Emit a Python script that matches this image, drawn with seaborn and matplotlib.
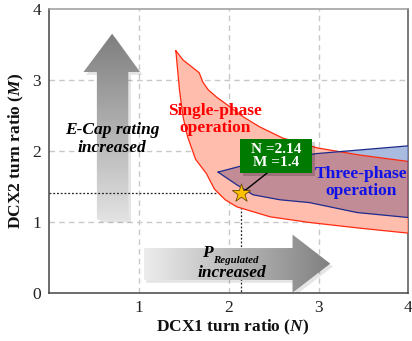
import numpy as np
import pandas as pd
import matplotlib
matplotlib.use("Agg")
import matplotlib.pyplot as plt
from matplotlib.patches import Polygon, Rectangle
import seaborn as sns

# Single-phase operating region: upper and lower boundaries (N, M)
single_upper_n = [1.41, 1.49, 1.60, 1.67, 1.71, 1.77, 1.87, 1.98, 2.16, 2.34, 2.60, 2.99, 3.46, 4.00]
single_upper_m = [3.41, 3.28, 3.17, 3.10, 2.97, 2.86, 2.75, 2.65, 2.48, 2.34, 2.18, 2.04, 1.94, 1.85]
single_lower_n = [1.41, 1.45, 1.49, 1.54, 1.63, 1.75, 1.84, 1.96, 2.09, 2.46, 2.90, 3.46, 4.00]
single_lower_m = [3.41, 2.86, 2.48, 2.20, 1.88, 1.68, 1.46, 1.31, 1.21, 1.07, 0.99, 0.91, 0.84]

# Three-phase operating region: upper and lower boundaries (N, M)
three_upper_n = [1.88, 2.12, 2.97, 4.00]
three_upper_m = [1.70, 1.78, 1.96, 2.07]
three_lower_n = [1.88, 2.09, 2.27, 2.57, 2.90, 3.43, 4.00]
three_lower_m = [1.70, 1.52, 1.38, 1.31, 1.27, 1.13, 1.06]

# Selected design point
design_n = 2.14
design_m = 1.4

x_ticks = [1, 2, 3, 4]
y_ticks = [0, 1, 2, 3, 4]

# Trend arrows (data coordinates)
vert_arrow = [(0.53, 1.03), (0.88, 1.03), (0.88, 3.11), (1.01, 3.11),
              (0.70, 3.65), (0.38, 3.11), (0.53, 3.11)]
horz_arrow = [(1.05, 0.18), (2.71, 0.18), (2.71, 0.00), (3.13, 0.41),
              (2.71, 0.82), (2.71, 0.63), (1.05, 0.63)]

# Callout box extent (data coordinates)
box_n = (2.13, 2.93)
box_m = (1.69, 2.17)

SALMON = "#FFBDAD"
RED_EDGE = "#FF2A10"
LIGHT_BLUE = "#A9BCE0"
MAUVE = "#C18C96"
NAVY = "#1F2A8C"

sns.set_theme(style="white")
plt.rcParams["font.family"] = ["Liberation Serif", "DejaVu Serif"]
plt.rcParams["mathtext.fontset"] = "custom"
plt.rcParams["mathtext.it"] = "Liberation Serif:bold:italic"
plt.rcParams["mathtext.rm"] = "Liberation Serif:bold"

fig = plt.figure(figsize=(4.12, 3.41), dpi=100)
ax = fig.add_axes([0.1197, 0.1415, 0.8713, 0.8325])


def region(n_up, m_up, n_lo, m_lo):
    up = list(zip(n_up, m_up))
    lo = list(zip(n_lo, m_lo))[::-1]
    return np.array(up + lo)


def gradient_arrow(verts, axis, c_start, c_end, zorder):
    verts = np.array(verts)
    clip = Polygon(verts, closed=True, transform=ax.transData,
                   facecolor="none", edgecolor="none")
    ax.add_patch(clip)
    # soft shadow
    shadow = Polygon(verts + np.array([0.03, -0.04]), closed=True,
                     facecolor="#000000", alpha=0.10, edgecolor="none",
                     zorder=zorder - 0.1)
    ax.add_patch(shadow)
    t = np.linspace(0, 1, 256)
    c0 = np.array(matplotlib.colors.to_rgb(c_start))
    c1 = np.array(matplotlib.colors.to_rgb(c_end))
    cols = c0[None, :] + (c1 - c0)[None, :] * t[:, None]
    if axis == "y":
        img = cols[:, None, :].repeat(4, axis=1)
    else:
        img = cols[None, :, :].repeat(4, axis=0)
    im = ax.imshow(img, extent=[verts[:, 0].min(), verts[:, 0].max(),
                                verts[:, 1].min(), verts[:, 1].max()],
                   origin="lower", aspect="auto", interpolation="bilinear",
                   zorder=zorder)
    im.set_clip_path(clip)


# grid
for v in [1, 2, 3]:
    ax.axvline(v, color="#C8C8C8", lw=1.0, ls=(0, (4, 3)), zorder=0.5)
    ax.axhline(v, color="#C8C8C8", lw=1.0, ls=(0, (4, 3)), zorder=0.5)

gradient_arrow(vert_arrow, "y", "#E2E2E2", "#7E7E7E", zorder=1.0)

# dotted guides to the design point
guides = pd.DataFrame({"n": [0, design_n, design_n], "m": [design_m, design_m, 0]})
sns.lineplot(data=guides, x="n", y="m", sort=False, estimator=None, ax=ax,
             color="#222222", lw=0.9, ls=(0, (1.5, 1.5)), zorder=1.5)

gradient_arrow(horz_arrow, "x", "#EDEDED", "#808080", zorder=2.0)

# operating regions
single_poly = region(single_upper_n, single_upper_m, single_lower_n, single_lower_m)
three_poly = region(three_upper_n, three_upper_m, three_lower_n, three_lower_m)

single_patch = Polygon(single_poly, closed=True, facecolor=SALMON,
                       edgecolor="none", zorder=3)
ax.add_patch(single_patch)
ax.add_patch(Polygon(three_poly, closed=True, facecolor=LIGHT_BLUE,
                     edgecolor="none", zorder=3.1))
overlap = Polygon(three_poly, closed=True, facecolor=MAUVE,
                  edgecolor="none", zorder=3.2)
ax.add_patch(overlap)
overlap.set_clip_path(single_patch)

closed_single = np.vstack([single_poly, single_poly[:1]])
closed_three = np.vstack([three_poly, three_poly[:1]])
ax.plot(closed_single[:, 0], closed_single[:, 1], color=RED_EDGE, lw=0.9, zorder=4)
ax.plot(closed_three[:, 0], closed_three[:, 1], color=NAVY, lw=0.9, zorder=4)

# callout for the design point
ax.plot([2.43, design_n], [1.69, design_m], color="black", lw=1.0, zorder=4.5)
sns.scatterplot(x=[design_n], y=[design_m], marker="*", s=190, color="#FFC000",
                edgecolor="#6B4A00", linewidth=0.6, ax=ax, zorder=6)
bw, bh = box_n[1] - box_n[0], box_m[1] - box_m[0]
ax.add_patch(Rectangle((box_n[0] + 0.03, box_m[0] - 0.04), bw, bh,
                       facecolor="black", alpha=0.18, edgecolor="none", zorder=6.5))
ax.add_patch(Rectangle((box_n[0], box_m[0]), bw, bh, facecolor="#007A00",
                       edgecolor="none", zorder=6.8))
ax.text(sum(box_n) / 2, sum(box_m) / 2, f"N ={design_n:g}\nM ={design_m:g}",
        color="white", fontsize=11, fontweight="bold", ha="center",
        va="center", linespacing=1.05, zorder=7)

# annotations
ax.text(0.70, 2.17, "E-Cap rating\nincreased", fontsize=12.5, fontweight="bold",
        fontstyle="italic", ha="center", va="center", linespacing=1.15,
        color="black", zorder=5)
ax.text(1.85, 2.44, "Single-phase\noperation", fontsize=12.5, fontweight="bold",
        ha="center", va="center", linespacing=1.05, color="#FF0000", zorder=5)
ax.text(3.47, 1.55, "Three-phase\noperation", fontsize=12.5, fontweight="bold",
        ha="center", va="center", linespacing=1.05, color="#1010E8", zorder=5)
p_txt = ax.text(1.70, 0.50, "P", fontsize=12.5, fontweight="bold",
                fontstyle="italic", ha="left", va="baseline", color="black",
                zorder=5)
ax.annotate("Regulated", xy=(1.0, 0.0), xycoords=p_txt, xytext=(0.5, -1.5),
            textcoords="offset points", fontsize=7.8, fontweight="bold",
            fontstyle="italic", ha="left", va="baseline", color="black",
            zorder=5)
ax.text(2.04, 0.28, "increased", fontsize=12.5, fontweight="bold",
        fontstyle="italic", ha="center", va="center", color="black", zorder=5)

# axes styling
ax.set_xlim(0, 4)
ax.set_ylim(0, 4)
ax.set_xticks(x_ticks)
ax.set_yticks(y_ticks)
ax.tick_params(axis="both", length=0, labelsize=12.5, colors="#222222")
ax.tick_params(axis="x", pad=5)
ax.tick_params(axis="y", pad=6)
ax.grid(False)
for side, col in [("left", "#444444"), ("bottom", "#444444"),
                  ("top", "#9A9A9A"), ("right", "#555555")]:
    ax.spines[side].set_visible(True)
    ax.spines[side].set_color(col)
    ax.spines[side].set_linewidth(1.1)

ax.set_xlabel(r"DCX1 turn ratio ($\mathit{N}$)", fontsize=12.5, fontweight="bold",
              color="#111111")
ax.set_ylabel(r"DCX2 turn ratio ($\mathit{M}$)", fontsize=12.5, fontweight="bold",
              color="#111111")
ax.xaxis.set_label_coords(0.51, -0.088)
ax.yaxis.set_label_coords(-0.066, 0.50)

fig.savefig("out.png", dpi=100)
